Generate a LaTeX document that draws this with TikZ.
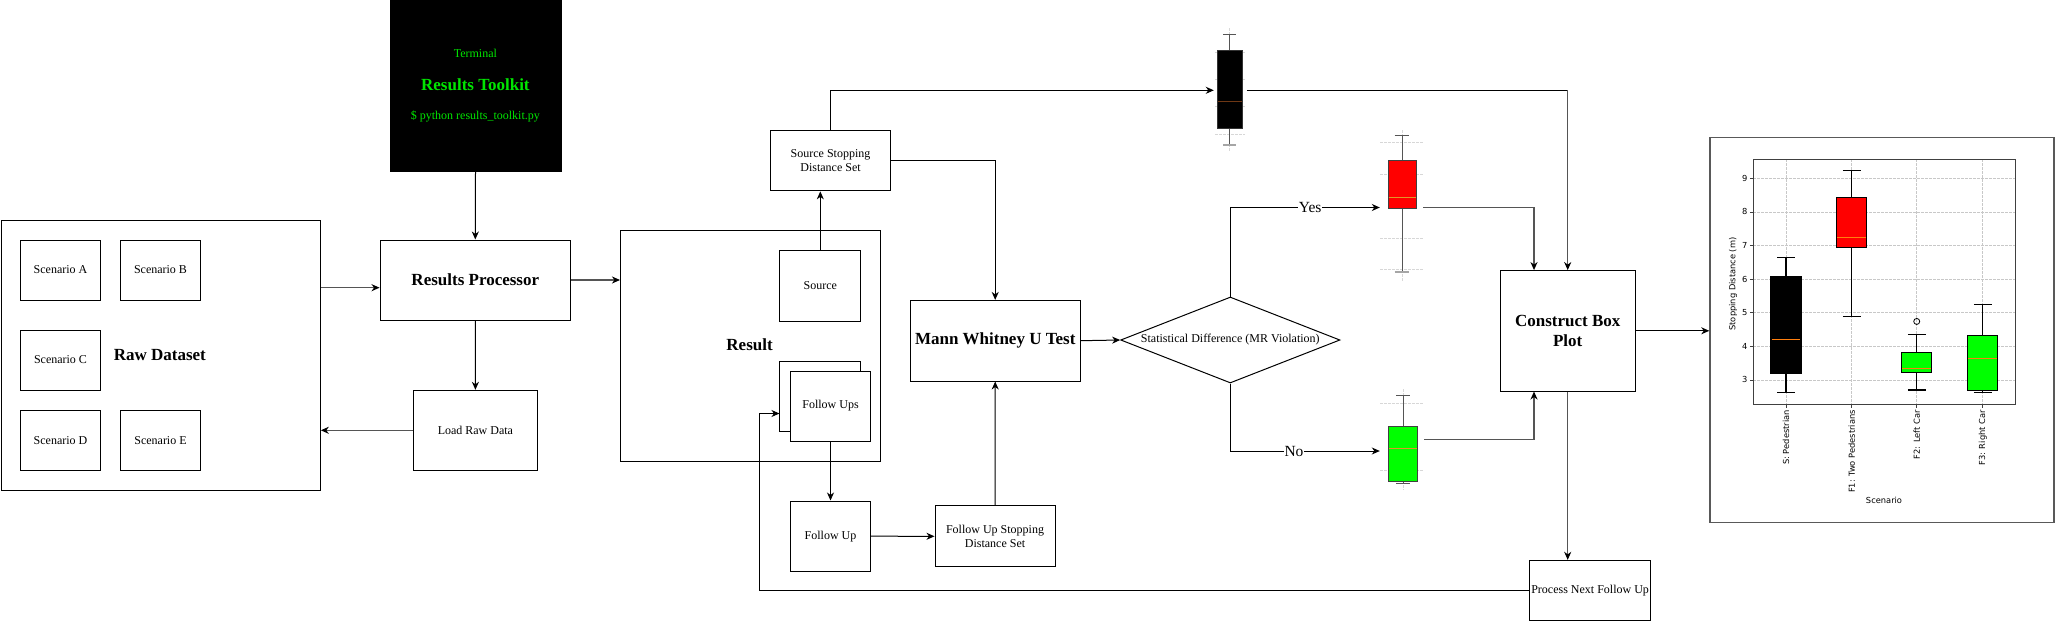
\documentclass[tikz,border=0pt]{standalone}
\usepackage{fontspec}
\setmainfont{Liberation Serif}
\newfontfamily\chartfont{DejaVu Sans}
\usetikzlibrary{shapes.geometric,arrows.meta}
\definecolor{termgreen}{RGB}{0,230,0}
\definecolor{lgreen}{RGB}{0,255,0}
\definecolor{medorange}{RGB}{255,127,14}
\definecolor{minimed}{RGB}{225,150,40}
\definecolor{darkmed}{RGB}{110,55,20}
\definecolor{linegray}{RGB}{85,85,85}
\definecolor{gridgray}{RGB}{200,200,200}
\definecolor{mgridgray}{RGB}{215,215,215}
\definecolor{whiskgray}{RGB}{85,85,85}
\newcommand{\cf}{\chartfont\fontsize{8.3}{10}\selectfont}
\newcommand{\mybx}[7]{%
  \draw[cwhisk] (#1,{vy(#5)}) -- (#1,{vy(#2)});
  \draw[cwhisk] (#1,{vy(#3)}) -- (#1,{vy(#6)});
  \draw[cwhisk] ({#1-8.8},{vy(#5)}) -- ({#1+8.8},{vy(#5)});
  \draw[cwhisk] ({#1-8.8},{vy(#6)}) -- ({#1+8.8},{vy(#6)});
  \filldraw[fill=#7,draw=black,line width=1.2pt] ({#1-15},{vy(#2)}) rectangle ({#1+15},{vy(#3)});
  \draw[medorange,line width=1.1pt] ({#1-14.4},{vy(#4)}) -- ({#1+14.4},{vy(#4)});
}
\begin{document}
\begin{tikzpicture}[x=1pt,y=-1pt,
  declare function={vy(\v)=178.3+(9-\v)*33.6;},
  fsr/.style={font=\fontsize{12}{14.7}\selectfont},
  fsb/.style={font=\fontsize{17}{20.4}\selectfont\bfseries},
  box/.style={draw,line width=1pt,inner sep=0pt,align=center},
  ar/.style={-{Stealth[length=8pt,width=7pt,inset=2.5pt,color=black]},line width=1pt},
  gar/.style={ar,draw=linegray,line width=1.4pt},
  lbl/.style={fill=white,inner sep=1pt,font=\fontsize{15.5}{17}\selectfont},
  mgrid/.style={draw=mgridgray,dash pattern=on 2.5pt off 1.5pt,line width=0.7pt},
  mwhisk/.style={draw=whiskgray,line width=1pt},
  grid/.style={draw=gridgray,dash pattern=on 2.5pt off 1.5pt,line width=0.6pt},
  cwhisk/.style={draw=black,line width=1.1pt},
  ghost/.style={draw=none,inner sep=0pt}
]
\useasboundingbox (0,0) rectangle (2055,621);

% ---------- terminal ----------
\node[box,fill=black,minimum width=171pt,minimum height=171pt] (term) at (475.5,85.5) {};
\node[fsr,text=termgreen] (termA) at (475.4,53.3) {Terminal};
\node[fsb,text=termgreen] (termB) at (475.4,84.7) {Results Toolkit};
\node[fsr,text=termgreen] (termC) at (475.4,116.7) {\$ python results\_toolkit.py};

% ---------- raw dataset ----------
\node[box,minimum width=319pt,minimum height=270pt] (raw) at (160.8,355) {};
\node[fsb] (rawlbl) at (159.8,355) {Raw Dataset};
\node[box,fsr,minimum width=80pt,minimum height=60pt] (scA) at (60.5,270) {Scenario A};
\node[box,fsr,minimum width=80pt,minimum height=60pt] (scB) at (160.5,270) {Scenario B};
\node[box,fsr,minimum width=80pt,minimum height=60pt] (scC) at (60.5,360) {Scenario C};
\node[box,fsr,minimum width=80pt,minimum height=60pt] (scD) at (60.5,440.3) {Scenario D};
\node[box,fsr,minimum width=80pt,minimum height=60pt] (scE) at (160.5,440.3) {Scenario E};

% ---------- processor ----------
\node[box,fsb,minimum width=190.5pt,minimum height=80pt] (rp) at (475.3,280) {Results Processor};
\node[box,fsr,minimum width=124pt,minimum height=80pt] (lrd) at (475.4,430.3) {Load Raw Data};

% ---------- result ----------
\node[box,minimum width=260pt,minimum height=230.4pt] (result) at (750.5,345.8) {};
\node[fsb] (resultlbl) at (749.6,345) {Result};
\node[box,fsr,minimum width=80.7pt,minimum height=70.2pt] (source) at (820.3,285.9) {Source};
\node[box,fill=white,minimum width=80.7pt,minimum height=70pt] (fuback) at (820.3,396) {};
\node[box,fsr,fill=white,minimum width=80pt,minimum height=70pt] (fus) at (830.5,406) {Follow Ups};

\node[box,fsr,minimum width=120pt,minimum height=60.3pt] (ssds) at (830.5,160.7) {Source Stopping\\Distance Set};
\node[box,fsr,minimum width=80pt,minimum height=70.4pt] (fu) at (830.5,536.2) {Follow Up};
\node[box,fsr,minimum width=120pt,minimum height=60.7pt] (fusds) at (995,536.3) {Follow Up Stopping\\Distance Set};
\node[box,fsb,minimum width=170.4pt,minimum height=80.6pt] (mw) at (995.2,340.7) {Mann Whitney U Test};

\node[diamond,draw,line width=1pt,aspect=2.55,minimum width=219.3pt,minimum height=86pt,inner sep=0pt,fsr] (dia) at (1230.3,340) {Statistical Difference (MR Violation)};

\node[box,fsb,minimum width=134.6pt,minimum height=120.4pt] (cbp) at (1567.7,330.8) {Construct Box\\Plot};
\node[box,fsr,minimum width=120.3pt,minimum height=59.7pt] (pn) at (1590.1,590.2) {Process Next Follow Up};

% ---------- mini box plots ----------
\node[ghost,minimum width=32.7pt,minimum height=124pt] (bpS) at (1230.35,90.3) {};
\node[ghost,minimum width=43pt,minimum height=150pt] (bpF) at (1401.5,207.5) {};
\node[ghost,minimum width=44pt,minimum height=102pt] (bpG) at (1402,451) {};

% black
\draw[mgrid] (1229.7,28) -- (1229.7,152);
\foreach \yy in {52.3,79.3,106.3,134} \draw[mgrid] (1215,\yy) -- (1245,\yy);
\draw[mwhisk] (1229.7,34.3) -- (1229.7,50.3);
\draw[mwhisk] (1229.7,128) -- (1229.7,145);
\draw[mwhisk] (1223,34.3) -- (1236.4,34.3);
\draw[draw=gray!70,line width=1.2pt] (1223,145) -- (1236.4,145);
\filldraw[fill=black,draw=black!80,line width=1pt] (1217.4,50.3) rectangle (1242,128);
\draw[darkmed,line width=0.9pt] (1217.9,101) -- (1241.5,101);

% red
\draw[mgrid] (1402,130) -- (1402,282);
\foreach \yy in {142.7,174.6,238,269} \draw[mgrid] (1380,\yy) -- (1423,\yy);
\draw[mwhisk] (1402,135.3) -- (1402,160);
\draw[mwhisk] (1402,208.7) -- (1402,272);
\draw[mwhisk] (1394.6,135.3) -- (1408.5,135.3);
\draw[draw=gray!70,line width=1.2pt] (1394.6,272) -- (1408.5,272);
\filldraw[fill=red,draw=black!75,line width=1pt] (1388,160) rectangle (1416,208.7);
\draw[minimed,line width=0.9pt] (1388.5,197.6) -- (1415.5,197.6);

% green
\draw[mgrid] (1403,389) -- (1403,490);
\foreach \yy in {403.6,470} \draw[mgrid] (1380,\yy) -- (1424,\yy);
\draw[mwhisk] (1403,395) -- (1403,426.6);
\draw[mwhisk] (1403,481) -- (1403,483);
\draw[mwhisk] (1396,395) -- (1410,395);
\draw[mwhisk] (1396,483.5) -- (1410,483.5);
\filldraw[fill=lgreen,draw=black!75,line width=1pt] (1388.4,426.6) rectangle (1417.4,481);
\draw[minimed,line width=0.9pt] (1388.9,448.8) -- (1416.9,448.8);

% ---------- chart ----------
\node[draw=black!65,line width=1.5pt,minimum width=344pt,minimum height=385.4pt,inner sep=0pt] (chart) at (1882,330) {};
\foreach \v in {3,...,9} \draw[grid] (1753.3,{vy(\v)}) -- (2015.3,{vy(\v)});
\foreach \xx in {1786,1851.7,1916.7,1982.7} \draw[grid] (\xx,159.3) -- (\xx,404);
\mybx{1786}{3.2}{6.07}{4.2}{2.62}{6.65}{black}
\mybx{1851.7}{6.93}{8.43}{7.24}{4.9}{9.24}{red}
\mybx{1916.7}{3.23}{3.82}{3.33}{2.7}{4.36}{lgreen}
\mybx{1982.7}{2.68}{4.32}{3.64}{2.62}{5.25}{lgreen}
\draw[line width=0.8pt] (1916.7,{vy(4.74)}) circle[radius=3pt];
\draw[draw=black!75,line width=0.9pt] (1753.3,159.3) rectangle (2015.3,404);
\foreach \v in {3,...,9} {
  \draw[draw=black!75,line width=0.8pt] (1749.8,{vy(\v)}) -- (1753.3,{vy(\v)});
  \node[anchor=east,inner sep=0pt,font=\cf] at (1747.5,{vy(\v)}) {\v};
}
\foreach \xx/\tx in {1786/{S: Pedestrian},1851.7/{F1: Two Pedestrians},1916.7/{F2: Left Car},1982.7/{F3: Right Car}} {
  \draw[draw=black!75,line width=0.8pt] (\xx,404) -- (\xx,407.5);
  \node[rotate=90,anchor=east,inner sep=0pt,font=\cf] at (\xx,410) {\tx};
}
\node[rotate=90,font=\cf] (ylab) at (1733,284) {Stopping Distance (m)};
\node[font=\cf] (xlab) at (1884,500) {Scenario};

% ---------- connectors ----------
\draw[ar] (term.south) -- (rp.north);
\path ([yshift=-7.7pt]rp.west) coordinate (rpin);
\draw[gar] (raw.east |- rpin) -- (rpin);
\draw[ar] (rp.south) -- (lrd.north);
\draw[gar] (lrd.west) -- (lrd.west -| raw.east);
\draw[gar] (rp.east) -- (rp.east -| result.west);
\draw[ar] (source.north) -- (source.north |- ssds.south);
\draw[ar] (ssds.north) |- (bpS.west);
\draw[ar] (ssds.east) -| (mw.north);
\draw[ar] (fus.south) -- (fu.north);
\draw[ar] (fu.east) -- (fusds.west);
\draw[ar] (fusds.north) -- (mw.south);
\draw[ar] (mw.east) -- (dia.west);
\draw[ar] (dia.north) |- node[lbl,pos=0.767] {Yes} (bpF.west);
\draw[ar] (dia.south) |- node[lbl,pos=0.713] {No} (bpG.west);
\draw[line width=1pt] (bpS.east) -- (bpS.east -| cbp.north);
\draw[gar] (bpS.east -| cbp.north) -- (cbp.north);
\draw[gar] (bpF.east) -| ([xshift=-33.7pt]cbp.north);
\draw[gar] ([yshift=11.3pt]bpG.east) -| ([xshift=-33.7pt]cbp.south);
\draw[ar] (cbp.east) -- (cbp.east -| chart.west);
\draw[gar] (cbp.south) -- (cbp.south |- pn.north);
\draw[ar] (pn.west) -| ([xshift=-20pt,yshift=-17.5pt]fuback.west) -- ([yshift=-17.5pt]fuback.west);
\end{tikzpicture}
\end{document}
